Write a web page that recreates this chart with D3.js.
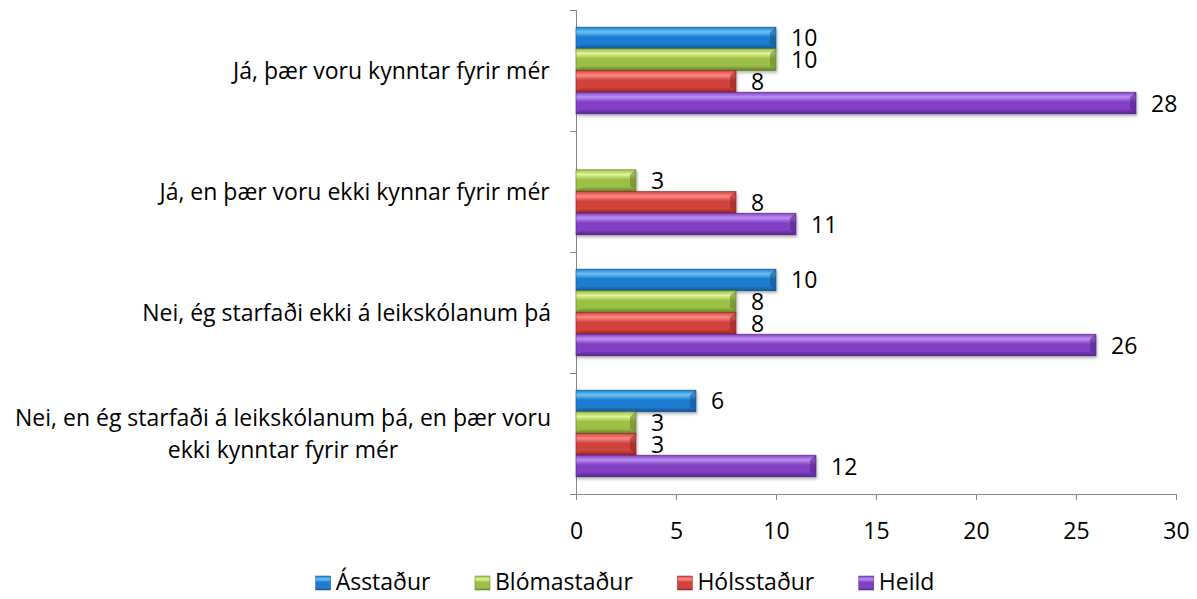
<!DOCTYPE html>
<html>
<head>
<meta charset="utf-8">
<script src="https://cdn.jsdelivr.net/npm/d3@7"></script>
<style>
  body { margin: 0; background: #fff; }
  text { font-family: "Open Sans", "Noto Sans", sans-serif; fill: #000; }
</style>
</head>
<body>
<svg id="chart"></svg>
<script>
// Data
const categories = [
  'Já, þær voru kynntar fyrir mér',
  'Já, en þær voru ekki kynnar fyrir mér ',
  'Nei, ég starfaði ekki á leikskólanum þá',
  'Nei, en ég starfaði á leikskólanum þá, en þær voru|ekki kynntar fyrir mér'
]
const seriesNames = ['Ásstaður', 'Blómastaður', 'Hólsstaður', 'Heild']
const asstadur = [10, null, 10, 6]
const blomastadur = [10, 3, 8, 3]
const holsstadur = [8, 8, 8, 3]
const heild = [28, 11, 26, 12]
const xTicks = [0, 5, 10, 15, 20, 25, 30]

// Bar colors: [light, mid, dark]
const colors = [
  ['#6cc3f5', '#1f7bd0', '#16558f'],
  ['#e2f59a', '#9cbf45', '#667f2b'],
  ['#fb8a85', '#d2433e', '#8e2723'],
  ['#be8ff0', '#8141c4', '#542586']
]

const width = 1197
const height = 599
const fontSize = 23
const plotTop = 10
const plotBottom = 494
const svg = d3.select('#chart').attr('width', width).attr('height', height)

const allValues = [asstadur, blomastadur, holsstadur, heild]

const x = d3.scaleLinear().domain([0, 30]).range([576, 1176])
const y = d3.scaleBand().domain(categories).range([plotTop, plotBottom])
const yInner = d3
  .scaleBand()
  .domain(seriesNames)
  .range([0, y.bandwidth()])
  .paddingOuter(0.79)

const defs = svg.append('defs')

// vertical gradients giving the bars their rounded look
seriesNames.forEach((s, i) => {
  const grad = defs
    .append('linearGradient')
    .attr('id', `grad${i}`)
    .attr('x1', 0).attr('y1', 0).attr('x2', 0).attr('y2', 1)
  grad.append('stop').attr('offset', '0%').attr('stop-color', colors[i][1])
  grad.append('stop').attr('offset', '22%').attr('stop-color', colors[i][0])
  grad.append('stop').attr('offset', '45%').attr('stop-color', colors[i][1])
  grad.append('stop').attr('offset', '85%').attr('stop-color', colors[i][1])
  grad.append('stop').attr('offset', '100%').attr('stop-color', colors[i][2])
})

const shadow = defs.append('filter').attr('id', 'shadow')
  .attr('x', '-5%').attr('y', '-20%').attr('width', '110%').attr('height', '160%')
shadow.append('feDropShadow')
  .attr('dx', 1).attr('dy', 2).attr('stdDeviation', 1.5)
  .attr('flood-color', '#000').attr('flood-opacity', 0.3)

// Axes
const axisColor = '#868686'
const xAxis = svg
  .append('g')
  .attr('transform', `translate(0, ${plotBottom})`)
  .call(d3.axisBottom(x).tickValues(xTicks).tickSize(6))
xAxis.select('.domain').attr('stroke', axisColor).attr('d', `M${x(0) - 6},0.5H${x(30)}`)
xAxis.selectAll('.tick line').attr('stroke', axisColor)
xAxis.selectAll('.tick text')
  .attr('y', 45) // baseline position below the axis
  .attr('dy', 0)
  .attr('font-size', fontSize)
  .attr('font-family', '"Open Sans", "Noto Sans", sans-serif')

const yAxisG = svg.append('g')
yAxisG.append('line')
  .attr('x1', x(0) + 0.5).attr('x2', x(0) + 0.5)
  .attr('y1', plotTop).attr('y2', plotBottom)
  .attr('stroke', axisColor)
const boundaries = categories.map(c => y(c)).concat([plotBottom])
yAxisG.selectAll('.ytick')
  .data(boundaries)
  .enter()
  .append('line')
  .attr('x1', x(0) - 6).attr('x2', x(0))
  .attr('y1', d => Math.round(d) + 0.5).attr('y2', d => Math.round(d) + 0.5)
  .attr('stroke', axisColor)

// Category labels, wrapped lines centred on each other
const lineHeight = 32
const catLabels = svg.selectAll('.cat-label')
  .data(categories)
  .enter()
  .append('text')
  .attr('class', 'cat-label')
  .attr('font-size', fontSize)
  .attr('text-anchor', 'middle')
catLabels.each(function(d) {
  const lines = d.split('|')
  const t = d3.select(this)
  lines.forEach((line, i) => {
    t.append('tspan').attr('x', 0).attr('dy', i === 0 ? 0 : lineHeight).text(line)
  })
  const bb = this.getBBox()
  const cy = y(d) + y.bandwidth() / 2 - (lines.length - 1) * lineHeight / 2
  t.attr('transform', `translate(${551 - bb.width / 2}, ${cy + 8})`)
})

// Bars
const barData = []
categories.forEach((c, ci) => {
  seriesNames.forEach((s, si) => {
    const v = allValues[si][ci]
    if (v !== null) barData.push({ category: c, series: s, si, value: v })
  })
})

const bars = svg.selectAll('.bar')
  .data(barData)
  .enter()
  .append('g')
  .attr('class', 'bar')
  .attr('transform', d => `translate(0, ${y(d.category) + yInner(d.series)})`)

const bh = yInner.bandwidth()
bars.append('rect')
  .attr('x', x(0))
  .attr('y', 0)
  .attr('width', d => x(d.value) - x(0))
  .attr('height', bh)
  .attr('fill', d => `url(#grad${d.si})`)
  .attr('stroke', d => colors[d.si][2])
  .attr('stroke-width', 0.6)
  .attr('filter', 'url(#shadow)')

// bevelled right end
bars.append('path')
  .attr('d', d => {
    const x1 = x(d.value)
    return `M${x1},0L${x1 - 6},5L${x1 - 6},${bh - 5}L${x1},${bh}Z`
  })
  .attr('fill', d => colors[d.si][2])
  .attr('opacity', 0.55)
bars.append('path')
  .attr('d', d => {
    const x1 = x(d.value)
    return `M${x(0)},${bh}L${x(0) + 5},${bh - 4}L${x1 - 6},${bh - 4}L${x1},${bh}Z`
  })
  .attr('fill', d => colors[d.si][2])
  .attr('opacity', 0.35)

// Value labels
bars.append('text')
  .attr('x', d => x(d.value) + 15)
  .attr('y', bh / 2 + 8.5)
  .attr('font-size', fontSize)
  .text(d => d.value)

// Legend
const legendGap = 44
const legend = svg.append('g').attr('class', 'legend')
const items = legend.selectAll('.legend-item')
  .data(seriesNames)
  .enter()
  .append('g')
  .attr('class', 'legend-item')
items.append('rect')
  .attr('width', 15).attr('height', 14)
  .attr('y', -14)
  .attr('fill', (d, i) => `url(#grad${i})`)
  .attr('stroke', (d, i) => colors[i][2])
  .attr('stroke-width', 0.5)
items.append('text')
  .attr('x', 20)
  .attr('font-size', fontSize)
  .text(d => d)
let cursor = 0
const offsets = []
items.each(function() {
  offsets.push(cursor)
  cursor += this.getBBox().width + legendGap
})
const legendWidth = cursor - legendGap
items.attr('transform', (d, i) => `translate(${offsets[i]}, 0)`)
legend.attr('transform', `translate(${625 - legendWidth / 2}, 590)`)
</script>
</body>
</html>
